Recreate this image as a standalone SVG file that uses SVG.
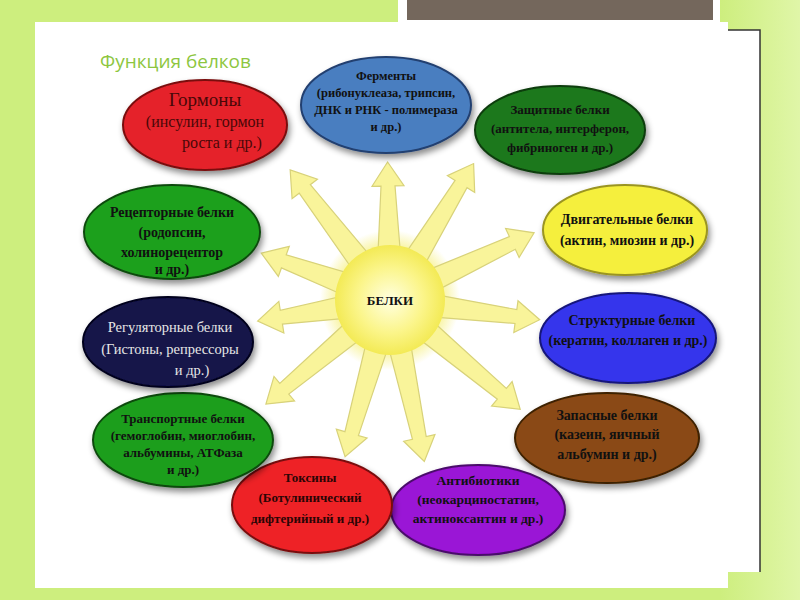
<svg xmlns="http://www.w3.org/2000/svg" width="800" height="600" viewBox="0 0 800 600">
<defs>
<radialGradient id="sun" cx="50%" cy="50%" r="50%">
<stop offset="0" stop-color="#FFFFE0"/>
<stop offset="0.6" stop-color="#FBF58A"/>
<stop offset="1" stop-color="#F3EA55"/>
</radialGradient>
<radialGradient id="glow" cx="50%" cy="50%" r="50%">
<stop offset="0.7" stop-color="#F5EE70" stop-opacity="0.8"/>
<stop offset="1" stop-color="#F5EE70" stop-opacity="0"/>
</radialGradient>
<linearGradient id="bg" x1="0" y1="0" x2="1" y2="0">
<stop offset="0" stop-color="#CDEE7E"/>
<stop offset="0.9" stop-color="#CDEE7E"/>
<stop offset="1" stop-color="#E0F6A8"/>
</linearGradient>
<filter id="sh" x="-20%" y="-20%" width="140%" height="150%">
<feDropShadow dx="2" dy="4" stdDeviation="3" flood-color="#000" flood-opacity="0.45"/>
</filter>
</defs>
<style>
.e{stroke-width:2;filter:url(#sh)}
.t{font-family:"Liberation Serif","DejaVu Serif",serif;font-weight:bold;font-size:13px;text-anchor:middle;fill:#111}
.ray{fill:#F9F49A;stroke:#D8D27A;stroke-width:1.2}
</style>
<rect width="800" height="600" fill="url(#bg)"/>
<rect x="398" y="0" width="322" height="25" fill="#FFFFFF"/>
<rect x="407" y="0" width="306" height="20" fill="#74675C"/>
<rect x="35" y="22" width="693" height="566" fill="#FFFFFF"/>
<rect x="728" y="30" width="32" height="542" fill="#FFFFFF"/>
<path d="M728,30 L760,30 L760,572" fill="none" stroke="#333" stroke-width="1.5"/>
<text x="100" y="68" font-family="Open Sans, Liberation Sans, sans-serif" font-size="19" fill="#8DC63F">Функция белков</text>
<g id="connectors">
<circle cx="390" cy="300" r="70" fill="url(#glow)"/>
<path class="ray" transform="translate(390,300) rotate(-127.5)" d="M50,-11 L140,-7 L140,-16 L164,0 L140,16 L140,7 L50,11 Z"/>
<path class="ray" transform="translate(390,300) rotate(-91)" d="M50,-11 L114,-7 L114,-16 L138,0 L114,16 L114,7 L50,11 Z"/>
<path class="ray" transform="translate(390,300) rotate(-58.5)" d="M50,-11 L136,-7 L136,-16 L160,0 L136,16 L136,7 L50,11 Z"/>
<path class="ray" transform="translate(390,300) rotate(-25)" d="M50,-11 L135,-7 L135,-16 L159,0 L135,16 L135,7 L50,11 Z"/>
<path class="ray" transform="translate(390,300) rotate(7.5)" d="M50,-11 L127,-7 L127,-16 L151,0 L127,16 L127,7 L50,11 Z"/>
<path class="ray" transform="translate(390,300) rotate(40)" d="M50,-11 L146,-7 L146,-16 L170,0 L146,16 L146,7 L50,11 Z"/>
<path class="ray" transform="translate(390,300) rotate(78)" d="M50,-11 L141,-7 L141,-16 L165,0 L141,16 L141,7 L50,11 Z"/>
<path class="ray" transform="translate(390,300) rotate(106)" d="M50,-11 L139,-7 L139,-16 L163,0 L139,16 L139,7 L50,11 Z"/>
<path class="ray" transform="translate(390,300) rotate(140)" d="M50,-11 L138,-7 L138,-16 L162,0 L138,16 L138,7 L50,11 Z"/>
<path class="ray" transform="translate(390,300) rotate(171)" d="M50,-11 L110,-7 L110,-16 L134,0 L110,16 L110,7 L50,11 Z"/>
<path class="ray" transform="translate(390,300) rotate(-160)" d="M50,-11 L113,-7 L113,-16 L137,0 L113,16 L113,7 L50,11 Z"/>
</g>
<g id="center">
<circle cx="390" cy="300" r="55" fill="url(#sun)"/>
<text class="t" x="390" y="305">БЕЛКИ</text>
</g>
<g id="hormones">
<ellipse class="e" cx="205" cy="125" rx="82" ry="45" fill="#E5222C" stroke="#7A1010"/>
<text class="t" x="205" y="106" style="font-size:19px;font-weight:normal;fill:#4A0808">Гормоны</text>
<text class="t" x="205" y="127" style="font-size:16px;font-weight:normal;fill:#4A0808">(инсулин, гормон</text>
<text class="t" x="222" y="148" style="font-size:16px;font-weight:normal;fill:#4A0808">роста и др.)</text>
</g>
<g id="enzymes">
<ellipse class="e" cx="386" cy="105" rx="85" ry="48" fill="#4A7EC0" stroke="#223F70"/>
<text class="t" x="386" y="80" style="font-size:12.5px">Ферменты</text>
<text class="t" x="386" y="97" style="font-size:12.5px">(рибонуклеаза, трипсин,</text>
<text class="t" x="386" y="114" style="font-size:12.5px">ДНК и РНК - полимераза</text>
<text class="t" x="386" y="131" style="font-size:12.5px">и др.)</text>
</g>
<g id="protective">
<ellipse class="e" cx="560" cy="130" rx="85" ry="44" fill="#1C781C" stroke="#0C3C0C"/>
<text class="t" x="560" y="114" style="font-size:13px">Защитные белки</text>
<text class="t" x="560" y="133" style="font-size:13px">(антитела, интерферон,</text>
<text class="t" x="560" y="152" style="font-size:13px">фибриноген и др.)</text>
</g>
<g id="motor">
<ellipse class="e" cx="625" cy="230" rx="82" ry="45" fill="#F5EF3C" stroke="#9A9420"/>
<text class="t" x="627" y="224" style="font-size:14px">Двигательные белки</text>
<text class="t" x="627" y="245" style="font-size:14px">(актин, миозин и др.)</text>
</g>
<g id="structural">
<ellipse class="e" cx="628" cy="338" rx="88" ry="45" fill="#3434EC" stroke="#16167A"/>
<text class="t" x="632" y="325" style="font-size:14px">Структурные белки</text>
<text class="t" x="628" y="345" style="font-size:14px">(кератин, коллаген и др.)</text>
</g>
<g id="storage">
<ellipse class="e" cx="607" cy="438" rx="92" ry="45" fill="#8A4A12" stroke="#3E2006"/>
<text class="t" x="607" y="420" style="font-size:14px">Запасные белки</text>
<text class="t" x="607" y="439" style="font-size:14px">(казеин, яичный</text>
<text class="t" x="607" y="459" style="font-size:14px">альбумин и др.)</text>
</g>
<g id="antibiotics">
<ellipse class="e" cx="478" cy="510" rx="87" ry="45" fill="#9A12D6" stroke="#4A0A6A"/>
<text class="t" x="478" y="485" style="font-size:13.5px">Антибиотики</text>
<text class="t" x="478" y="504" style="font-size:13.5px">(неокарциностатин,</text>
<text class="t" x="478" y="523" style="font-size:13.5px">актиноксантин и др.)</text>
</g>
<g id="toxins">
<ellipse class="e" cx="312" cy="505" rx="80" ry="48" fill="#EE2028" stroke="#7A1010"/>
<text class="t" x="310" y="482" style="font-size:13px;fill:#2A0505">Токсины</text>
<text class="t" x="310" y="502" style="font-size:13px;fill:#2A0505">(Ботулинический</text>
<text class="t" x="310" y="523" style="font-size:13px;fill:#2A0505">дифтерийный и др.)</text>
</g>
<g id="transport">
<ellipse class="e" cx="183" cy="440" rx="90" ry="47" fill="#1E9E1E" stroke="#0C4A0C"/>
<text class="t" x="183" y="423" style="font-size:13px">Транспортные белки</text>
<text class="t" x="183" y="440" style="font-size:13px">(гемоглобин, миоглобин,</text>
<text class="t" x="183" y="457" style="font-size:13px">альбумины, АТФаза</text>
<text class="t" x="183" y="474" style="font-size:13px">и др.)</text>
</g>
<g id="regulatory">
<ellipse class="e" cx="168" cy="342" rx="85" ry="45" fill="#13134A" stroke="#05051E"/>
<text class="t" x="170" y="332" style="font-size:14.5px;font-weight:normal;fill:#E6E6E6">Регуляторные белки</text>
<text class="t" x="170" y="354" style="font-size:14.5px;font-weight:normal;fill:#E6E6E6">(Гистоны, репрессоры</text>
<text class="t" x="192" y="375" style="font-size:14.5px;font-weight:normal;fill:#E6E6E6">и др.)</text>
</g>
<g id="receptor">
<ellipse class="e" cx="172" cy="232" rx="88" ry="47" fill="#1FA01F" stroke="#0C4A0C"/>
<text class="t" x="172" y="217" style="font-size:14px">Рецепторные белки</text>
<text class="t" x="172" y="237" style="font-size:14px">(родопсин,</text>
<text class="t" x="172" y="257" style="font-size:14px">холинорецептор</text>
<text class="t" x="172" y="274" style="font-size:14px">и др.)</text>
</g>
</svg>
